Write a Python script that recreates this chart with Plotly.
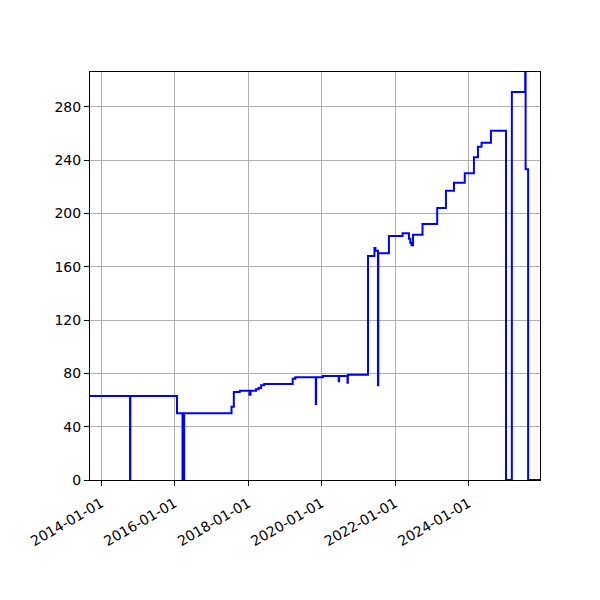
import plotly.graph_objects as go

# Step series (value holds until the next date)
dates = [
    "2013-09-12", "2014-10-15", "2014-10-18", "2016-01-25", "2016-03-20", "2016-04-05",
    "2017-07-20", "2017-08-12", "2017-10-10", "2018-01-15", "2018-01-25", "2018-03-20",
    "2018-04-15", "2018-05-10", "2018-06-10", "2019-03-20", "2019-04-15", "2019-11-05",
    "2019-11-08", "2020-01-15", "2020-06-20", "2020-06-24", "2020-09-15", "2020-09-19",
    "2021-04-07", "2021-06-10", "2021-06-20", "2021-07-15", "2021-07-18", "2021-11-01",
    "2022-03-17", "2022-05-19", "2022-06-01", "2022-06-13", "2022-06-28", "2022-10-01",
    "2023-02-24", "2023-05-22", "2023-08-10", "2023-11-25", "2024-02-24", "2024-04-04",
    "2024-05-10", "2024-08-11", "2025-01-08", "2025-03-07", "2025-07-18", "2025-07-22",
    "2025-08-16", "2025-12-12",
]
values = [
    63, 0, 63, 50, 0, 50,
    55, 66, 67, 64, 67, 68,
    69, 71, 72, 76, 77, 57,
    77, 78, 74, 78, 73, 79,
    168, 174, 172, 71, 170, 183,
    185, 181, 178, 176, 184, 192,
    204, 217, 223, 230, 242, 250,
    253, 262, 0, 291, 330, 233,
    0, 0,
]

y_ticks = [0, 40, 80, 120, 160, 200, 240, 280]

fig = go.Figure(
    go.Scatter(
        x=dates,
        y=values,
        mode="lines",
        line=dict(color="#0000ff", width=2, shape="hv"),
    )
)

axis_style = dict(
    showline=True,
    linecolor="black",
    linewidth=1,
    mirror=True,
    showgrid=True,
    gridcolor="#b0b0b0",
    gridwidth=1,
    ticks="outside",
    ticklen=5,
    tickcolor="black",
    zeroline=False,
    tickfont=dict(family="DejaVu Sans", size=14, color="black"),
)

# page body adds 8px, so margins are trimmed to land the frame at 90..540 / 72..480
fig.update_layout(
    width=600,
    height=600,
    margin=dict(l=82, r=68, t=64, b=128),
    plot_bgcolor="white",
    paper_bgcolor="white",
    showlegend=False,
    xaxis=dict(
        axis_style,
        type="date",
        range=["2013-09-12", "2025-12-12"],
        tick0="2014-01-01",
        dtick="M24",
        tickformat="%Y-%m-%d",
        tickangle=-30,
        ticklabelstandoff=4,
    ),
    yaxis=dict(
        axis_style,
        range=[0, 306],
        tickvals=y_ticks,
    ),
)

fig.write_html("out.html")
